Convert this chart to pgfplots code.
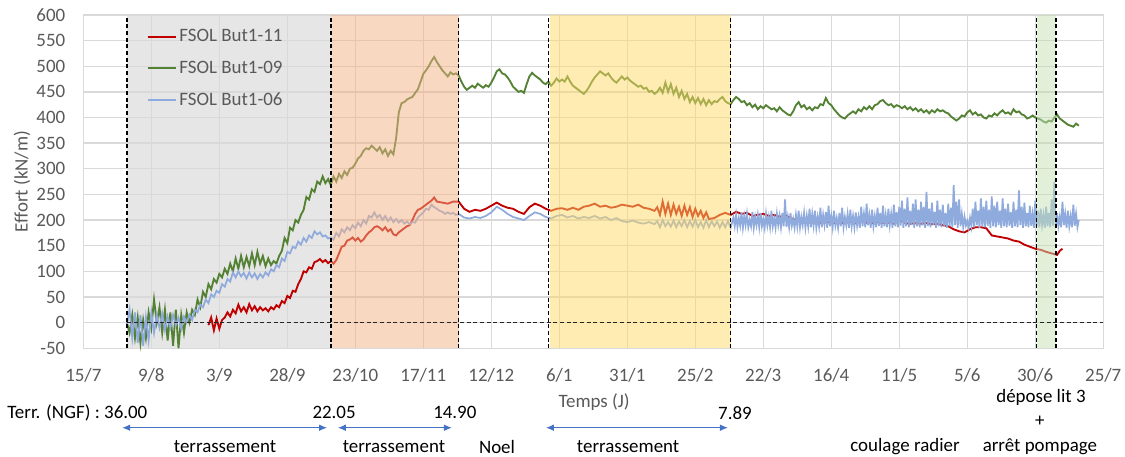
\documentclass[border=0pt]{standalone}
\usepackage{pgfplots}
\pgfplotsset{compat=1.18}
\usepackage{pgfplotstable}
\usepackage{fontspec}
\setmainfont{Carlito}
\usetikzlibrary{arrows.meta}

\definecolor{cRed}{HTML}{C00000}
\definecolor{cGreen}{HTML}{548235}
\definecolor{cBlue}{HTML}{8FAADC}
\definecolor{cGrid}{HTML}{D9D9D9}
\definecolor{cTick}{HTML}{595959}
\definecolor{cGrey}{HTML}{E7E6E6}
\definecolor{cSalmon}{HTML}{F4B183}
\definecolor{cYellow}{HTML}{FFD966}
\definecolor{cLGreen}{HTML}{C5E0B4}
\definecolor{cArrow}{HTML}{4472C4}

\tikzset{
  dashv/.style={black, line width=1.2pt, dash pattern=on 3pt off 2pt},
  darr/.style={cArrow, line width=0.8pt, {Latex[length=6pt,width=5pt]}-{Latex[length=6pt,width=5pt]}},
}

% FSOL But1-11 (day from 15/7, kN/m)
\pgfplotstableread[row sep=\\]{
d v\\
46 -5\\ 47 10\\ 48 -15\\ 49 8\\ 50 -12\\ 51 5\\ 52 10\\ 53 20\\ 54 12\\ 55 25\\
56 18\\ 57 35\\ 58 22\\ 59 30\\ 60 20\\ 61 36\\ 62 24\\ 63 32\\ 64 22\\ 65 30\\
66 24\\ 67 28\\ 68 22\\ 69 30\\ 70 26\\ 71 34\\ 72 30\\ 73 42\\ 74 38\\ 75 52\\
76 48\\ 77 62\\ 78 60\\ 79 75\\ 80 85\\ 81 100\\ 82 98\\ 83 108\\ 84 105\\ 85 118\\
86 120\\ 87 124\\ 88 118\\ 89 122\\ 90 116\\ 91 120\\ 92 115\\ 93 122\\ 94 135\\ 95 148\\
96 150\\ 97 160\\ 98 162\\ 99 166\\ 100 160\\ 101 165\\ 102 158\\ 103 162\\ 104 170\\ 105 176\\
106 180\\ 107 186\\ 108 188\\ 109 185\\ 110 180\\ 111 186\\ 112 178\\ 113 182\\ 114 172\\ 115 170\\
116 176\\ 117 180\\ 118 184\\ 119 188\\ 120 190\\ 121 200\\ 122 212\\ 123 220\\ 124 222\\ 126 230\\
128 238\\ 129 244\\ 130 236\\ 132 234\\ 134 232\\ 136 236\\ 138 236\\ 140 222\\ 142 216\\ 144 220\\
146 218\\ 148 222\\ 150 228\\ 152 234\\ 154 228\\ 156 224\\ 158 222\\ 160 216\\ 162 212\\ 164 225\\
166 232\\ 168 228\\ 170 222\\ 172 218\\ 174 222\\ 176 223\\ 178 220\\ 180 224\\ 182 220\\ 184 226\\
186 228\\ 188 232\\ 190 226\\ 192 228\\ 194 224\\ 196 226\\ 198 230\\ 200 228\\ 202 226\\ 204 230\\
206 224\\ 208 222\\ 210 218\\ 211 225\\ 212 210\\ 213 236\\ 214 212\\ 215 232\\ 216 210\\ 217 230\\
218 212\\ 219 226\\ 220 208\\ 221 228\\ 222 210\\ 223 225\\ 224 206\\ 225 222\\ 226 208\\ 227 218\\
228 204\\ 229 215\\ 230 202\\ 232 204\\ 234 210\\ 236 214\\ 238 210\\ 240 216\\ 242 212\\ 244 214\\
246 208\\ 248 210\\ 250 212\\ 252 208\\ 254 210\\ 256 206\\ 258 210\\ 260 204\\ 262 200\\ 264 198\\
266 196\\ 268 195\\ 270 196\\ 272 194\\ 274 196\\ 276 194\\ 278 195\\ 280 194\\ 282 196\\ 284 194\\
286 200\\ 288 195\\ 290 194\\ 292 196\\ 294 194\\ 296 195\\ 298 193\\ 300 200\\ 302 194\\ 304 193\\
306 194\\ 308 193\\ 310 194\\ 312 192\\ 314 193\\ 316 190\\ 318 188\\ 320 182\\ 322 178\\ 324 176\\
326 182\\ 328 186\\ 330 186\\ 332 184\\ 334 170\\ 336 168\\ 338 166\\ 340 164\\ 342 160\\ 344 158\\
346 152\\ 348 148\\ 350 144\\ 352 142\\ 354 138\\ 356 135\\ 358 132\\ 359 140\\ 360 144\\
}\tRed

% FSOL But1-09
\pgfplotstableread[row sep=\\]{
d v\\
16 0\\ 17 -20\\ 18 15\\ 19 -30\\ 20 10\\ 21 -40\\ 22 5\\ 23 -30\\ 24 20\\ 25 -10\\
26 45\\ 27 0\\ 28 30\\ 29 -20\\ 30 25\\ 31 -35\\ 32 20\\ 33 -45\\ 34 25\\ 35 -50\\
36 15\\ 37 -20\\ 38 20\\ 39 0\\ 40 25\\ 41 15\\ 42 45\\ 43 30\\ 44 60\\ 45 50\\
46 75\\ 47 65\\ 48 85\\ 49 78\\ 50 95\\ 51 88\\ 52 105\\ 53 95\\ 54 115\\ 55 100\\
56 125\\ 57 105\\ 58 130\\ 59 108\\ 60 128\\ 61 110\\ 62 135\\ 63 112\\ 64 138\\ 65 115\\
66 130\\ 67 110\\ 68 125\\ 69 112\\ 70 120\\ 71 115\\ 72 130\\ 73 140\\ 74 165\\ 75 155\\
76 185\\ 77 180\\ 78 200\\ 79 195\\ 80 210\\ 81 220\\ 82 245\\ 83 240\\ 84 260\\ 85 255\\
86 275\\ 87 270\\ 88 285\\ 89 272\\ 90 280\\ 91 268\\ 92 285\\ 93 275\\ 94 290\\ 95 282\\
96 295\\ 97 288\\ 98 300\\ 99 302\\ 100 310\\ 101 320\\ 102 325\\ 103 335\\ 104 340\\ 105 338\\
106 345\\ 107 340\\ 108 335\\ 109 342\\ 110 330\\ 111 338\\ 112 325\\ 113 335\\ 114 328\\ 115 360\\
116 410\\ 117 428\\ 118 430\\ 119 435\\ 120 438\\ 121 440\\ 122 448\\ 123 455\\ 124 470\\ 125 485\\
126 492\\ 127 500\\ 128 510\\ 129 518\\ 130 508\\ 131 500\\ 132 492\\ 133 486\\ 134 480\\ 135 488\\
136 484\\ 137 486\\ 138 482\\ 139 470\\ 140 460\\ 141 454\\ 142 458\\ 143 462\\ 144 458\\ 145 466\\
146 462\\ 147 458\\ 148 463\\ 149 460\\ 150 468\\ 151 478\\ 152 490\\ 153 494\\ 154 486\\ 155 484\\
156 478\\ 157 470\\ 158 460\\ 159 455\\ 160 450\\ 161 452\\ 162 448\\ 163 465\\ 164 480\\ 165 487\\
166 482\\ 167 478\\ 168 474\\ 169 468\\ 170 465\\ 171 470\\ 172 462\\ 173 468\\ 174 476\\ 175 470\\
176 474\\ 177 470\\ 178 480\\ 179 470\\ 180 462\\ 181 458\\ 182 454\\ 183 450\\ 184 446\\ 185 452\\
186 460\\ 187 470\\ 188 478\\ 189 484\\ 190 490\\ 191 486\\ 192 482\\ 193 486\\ 194 478\\ 195 472\\
196 468\\ 197 474\\ 198 480\\ 199 474\\ 200 478\\ 201 472\\ 202 468\\ 203 464\\ 204 460\\ 205 462\\
206 456\\ 207 458\\ 208 450\\ 209 452\\ 210 446\\ 211 450\\ 212 458\\ 213 448\\ 214 468\\ 215 450\\
216 465\\ 217 446\\ 218 458\\ 219 440\\ 220 452\\ 221 436\\ 222 446\\ 223 430\\ 224 440\\ 225 428\\
226 438\\ 227 426\\ 228 436\\ 229 424\\ 230 434\\ 231 426\\ 232 432\\ 233 430\\ 234 436\\ 235 440\\
236 432\\ 237 428\\ 238 426\\ 239 434\\ 240 440\\ 241 436\\ 242 430\\ 243 432\\ 244 424\\ 245 428\\
246 420\\ 247 425\\ 248 416\\ 249 422\\ 250 418\\ 251 424\\ 252 420\\ 253 416\\ 254 418\\ 255 412\\
256 420\\ 257 414\\ 258 410\\ 259 406\\ 260 404\\ 261 412\\ 262 424\\ 263 430\\ 264 420\\ 265 424\\
266 416\\ 267 420\\ 268 414\\ 269 420\\ 270 418\\ 271 426\\ 272 424\\ 273 438\\ 274 428\\ 275 424\\
276 416\\ 277 410\\ 278 404\\ 279 400\\ 280 398\\ 281 404\\ 282 408\\ 283 412\\ 284 408\\ 285 416\\
286 412\\ 287 420\\ 288 416\\ 289 422\\ 290 416\\ 291 424\\ 292 426\\ 293 432\\ 294 434\\ 295 428\\
296 424\\ 297 426\\ 298 420\\ 299 424\\ 300 422\\ 301 418\\ 302 422\\ 303 416\\ 304 420\\ 305 414\\
306 418\\ 307 412\\ 308 416\\ 309 410\\ 310 414\\ 311 408\\ 312 414\\ 313 410\\ 314 416\\ 315 412\\
316 414\\ 317 410\\ 318 408\\ 319 402\\ 320 398\\ 321 394\\ 322 398\\ 323 404\\ 324 402\\ 325 410\\
326 414\\ 327 406\\ 328 410\\ 329 404\\ 330 406\\ 331 400\\ 332 398\\ 333 404\\ 334 402\\ 335 408\\
336 404\\ 337 410\\ 338 414\\ 339 408\\ 340 410\\ 341 406\\ 342 416\\ 343 410\\ 344 412\\ 345 406\\
346 404\\ 347 398\\ 348 400\\ 349 404\\ 350 400\\ 351 398\\ 352 396\\ 353 392\\ 354 390\\ 355 394\\
356 392\\ 357 400\\ 358 406\\ 359 398\\ 360 394\\ 361 390\\ 362 386\\ 363 384\\ 364 382\\ 365 388\\
366 384\\
}\tGreen

% FSOL But1-06
\pgfplotstableread[row sep=\\]{
d v\\
16 -5\\ 17 25\\ 18 -30\\ 19 20\\ 20 -40\\ 21 15\\ 22 -45\\ 23 10\\ 24 -35\\ 25 20\\
26 -20\\ 27 15\\ 28 -10\\ 29 18\\ 30 -15\\ 31 12\\ 32 -10\\ 33 15\\ 34 -5\\ 35 10\\
36 -12\\ 37 12\\ 38 0\\ 39 15\\ 40 5\\ 41 25\\ 42 20\\ 43 35\\ 44 30\\ 45 45\\
46 38\\ 47 55\\ 48 50\\ 49 62\\ 50 58\\ 51 75\\ 52 70\\ 53 85\\ 54 80\\ 55 98\\
56 88\\ 57 100\\ 58 90\\ 59 97\\ 60 86\\ 61 98\\ 62 88\\ 63 96\\ 64 85\\ 65 95\\
66 88\\ 67 98\\ 68 92\\ 69 104\\ 70 100\\ 71 112\\ 72 108\\ 73 125\\ 74 120\\ 75 138\\
76 135\\ 77 148\\ 78 145\\ 79 158\\ 80 152\\ 81 165\\ 82 158\\ 83 170\\ 84 165\\ 85 178\\
86 172\\ 87 176\\ 88 168\\ 89 170\\ 90 164\\ 91 166\\ 92 162\\ 93 175\\ 94 168\\ 95 182\\
96 176\\ 97 186\\ 98 180\\ 99 190\\ 100 184\\ 101 195\\ 102 188\\ 103 200\\ 104 193\\ 105 208\\
106 205\\ 107 215\\ 108 205\\ 109 210\\ 110 200\\ 111 208\\ 112 198\\ 113 205\\ 114 196\\ 115 202\\
116 195\\ 117 200\\ 118 193\\ 119 197\\ 120 192\\ 121 196\\ 122 195\\ 123 205\\ 124 210\\ 125 215\\
126 222\\ 127 220\\ 128 230\\ 129 225\\ 130 222\\ 131 218\\ 132 216\\ 133 212\\ 134 215\\ 135 212\\
136 214\\ 137 210\\ 138 212\\ 140 205\\ 142 203\\ 144 206\\ 146 204\\ 148 208\\ 150 215\\ 152 226\\
154 220\\ 156 212\\ 158 206\\ 160 203\\ 162 200\\ 164 208\\ 166 215\\ 168 212\\ 170 206\\ 172 203\\
174 208\\ 176 210\\ 178 205\\ 180 208\\ 182 203\\ 184 206\\ 186 204\\ 188 208\\ 190 203\\ 192 206\\
194 200\\ 196 204\\ 198 198\\ 200 196\\ 202 199\\ 204 195\\ 206 193\\ 208 196\\ 210 192\\ 211 198\\
212 186\\ 213 200\\ 214 188\\ 215 196\\ 216 187\\ 217 199\\ 218 186\\ 219 197\\ 220 188\\ 221 200\\
222 186\\ 223 198\\ 224 187\\ 225 201\\ 226 186\\ 227 196\\ 228 185\\ 229 200\\ 230 186\\ 231 198\\
232 188\\ 233 197\\ 234 185\\ 235 196\\ 236 186\\ 237 198\\ 238 185\\
239 205\\ 239.5 188\\ 240 210\\ 240.5 186\\ 241 204\\ 241.5 189\\ 242 215\\ 242.5 185\\ 243 208\\ 243.5 190\\
244 212\\ 244.5 186\\ 245 200\\ 245.5 188\\ 246 216\\ 246.5 185\\ 247 206\\ 247.5 190\\ 248 210\\ 248.5 186\\
249 214\\ 249.5 188\\ 250 202\\ 250.5 185\\ 251 212\\ 251.5 189\\ 252 206\\ 252.5 186\\ 253 218\\ 253.5 188\\
254 204\\ 254.5 185\\ 255 212\\ 255.5 190\\ 256 208\\ 256.5 186\\ 257 214\\ 257.5 188\\ 258 240\\ 258.5 187\\
259 206\\ 259.5 186\\ 260 214\\ 260.5 189\\ 261 202\\ 261.5 185\\ 262 210\\ 262.5 188\\ 263 218\\ 263.5 186\\
264 206\\ 264.5 190\\ 265 214\\ 265.5 185\\ 266 208\\ 266.5 188\\ 267 222\\ 267.5 186\\ 268 212\\ 268.5 189\\
269 218\\ 269.5 185\\ 270 206\\ 270.5 188\\ 271 224\\ 271.5 186\\ 272 210\\ 272.5 190\\ 273 216\\ 273.5 185\\
274 228\\ 274.5 188\\ 275 208\\ 275.5 186\\ 276 218\\ 276.5 189\\ 277 204\\ 277.5 185\\ 278 214\\ 278.5 188\\
279 224\\ 279.5 186\\ 280 206\\ 280.5 190\\ 281 212\\ 281.5 185\\ 282 220\\ 282.5 188\\ 283 208\\ 283.5 186\\
284 215\\ 284.5 189\\ 285 206\\ 285.5 185\\ 286 226\\ 286.5 188\\ 287 212\\ 287.5 186\\ 288 232\\ 288.5 190\\
289 210\\ 289.5 185\\ 290 220\\ 290.5 188\\ 291 208\\ 291.5 186\\ 292 224\\ 292.5 189\\ 293 214\\ 293.5 185\\
294 228\\ 294.5 188\\ 295 210\\ 295.5 186\\ 296 222\\ 296.5 190\\ 297 212\\ 297.5 185\\ 298 230\\ 298.5 188\\
299 216\\ 299.5 186\\ 300 226\\ 300.5 189\\ 301 238\\ 301.5 185\\ 302 222\\ 302.5 188\\ 303 244\\ 303.5 186\\
304 218\\ 304.5 190\\ 305 232\\ 305.5 185\\ 306 240\\ 306.5 188\\ 307 220\\ 307.5 186\\ 308 236\\ 308.5 189\\
309 226\\ 309.5 185\\ 310 255\\ 310.5 188\\ 311 222\\ 311.5 186\\ 312 234\\ 312.5 190\\ 313 216\\ 313.5 185\\
314 238\\ 314.5 188\\ 315 220\\ 315.5 186\\ 316 230\\ 316.5 189\\ 317 214\\ 317.5 185\\ 318 232\\ 318.5 188\\
319 224\\ 319.5 186\\ 320 268\\ 320.5 190\\ 321 236\\ 321.5 185\\ 322 240\\ 322.5 188\\ 323 212\\ 323.5 186\\
324 206\\ 324.5 189\\ 325 198\\ 325.5 185\\ 326 204\\ 326.5 188\\ 327 222\\ 327.5 186\\ 328 236\\ 328.5 190\\
329 218\\ 329.5 185\\ 330 242\\ 330.5 188\\ 331 226\\ 331.5 186\\ 332 238\\ 332.5 189\\ 333 220\\ 333.5 185\\
334 246\\ 334.5 188\\ 335 228\\ 335.5 186\\ 336 236\\ 336.5 190\\ 337 218\\ 337.5 185\\ 338 242\\ 338.5 188\\
339 222\\ 339.5 186\\ 340 232\\ 340.5 189\\ 341 216\\ 341.5 185\\ 342 236\\ 342.5 188\\ 343 220\\ 343.5 186\\
344 258\\ 344.5 190\\ 345 226\\ 345.5 185\\ 346 234\\ 346.5 188\\ 347 214\\ 347.5 186\\ 348 228\\ 348.5 189\\
349 212\\ 349.5 185\\ 350 238\\ 350.5 188\\ 351 218\\ 351.5 186\\ 352 222\\ 352.5 190\\ 353 210\\ 353.5 185\\
354 226\\ 354.5 188\\ 355 214\\ 355.5 186\\ 356 240\\ 356.5 189\\ 357 275\\ 357.5 185\\ 358 214\\ 358.5 188\\
359 206\\ 359.5 186\\ 360 236\\ 360.5 190\\ 361 212\\ 361.5 185\\ 362 218\\ 362.5 188\\ 363 208\\ 363.5 186\\
364 230\\ 364.5 189\\ 365 212\\ 365.5 186\\ 366 200\\
}\tBlue

\begin{document}
\begin{tikzpicture}[font=\fontsize{14.2}{17}\selectfont]
\begin{axis}[
  set layers,
  scale only axis,
  width=765pt, height=250pt,
  xmin=0, xmax=375, ymin=-50, ymax=600,
  xtick={0,25,...,375},
  xticklabels={15/7,9/8,3/9,28/9,23/10,17/11,12/12,6/1,31/1,25/2,22/3,16/4,11/5,5/6,30/6,25/7},
  ytick={-50,0,...,600},
  grid=major,
  major grid style={cGrid, line width=1pt},
  axis line style={cGrid, line width=1pt},
  major tick length=0pt,
  tick label style={text=cTick},
  xticklabel style={yshift=-11.5pt},
  yticklabel style={xshift=-10pt},
  /pgf/number format/assume math mode=true,
  ylabel={Effort (kN/m)},
  ylabel style={text=cTick, at={(axis description cs:-0.06,0.5)}, anchor=center},
  clip=false,
  legend cell align=left,
  legend style={draw=none, fill=none, at={(rel axis cs:0.062,0.965)}, anchor=north west,
    text=cTick, row sep=9pt, inner sep=0pt},
  legend image code/.code={\draw[#1, line width=1.5pt] (0pt,0pt) -- (21pt,0pt);},
]
\begin{pgfonlayer}{axis background}
  \fill[cGrey] (axis cs:16,-50) rectangle (axis cs:91,600);
\end{pgfonlayer}

\addplot[cRed, line width=1.4pt] table[x=d, y=v] {\tRed};
\addlegendentry{FSOL But1-11}
\addplot[cGreen, line width=1.4pt] table[x=d, y=v] {\tGreen};
\addlegendentry{FSOL But1-09}
\addplot[cBlue, line width=1.3pt] table[x=d, y=v] {\tBlue};
\addlegendentry{FSOL But1-06}

\fill[cSalmon, fill opacity=0.5] (axis cs:91,-50) rectangle (axis cs:138,600);
\fill[cYellow, fill opacity=0.5] (axis cs:171.5,-50) rectangle (axis cs:238,600);
\fill[cLGreen, fill opacity=0.5] (axis cs:350.5,-50) rectangle (axis cs:357.6,600);

\draw[dashv] (axis cs:16,-50) -- (axis cs:16,600);
\draw[dashv] (axis cs:91,-50) -- (axis cs:91,600);
\draw[dashv] (axis cs:138,-50) -- (axis cs:138,600);
\draw[dashv] (axis cs:171,-50) -- (axis cs:171,600);
\draw[dashv] (axis cs:238,-50) -- (axis cs:238,600);
\draw[dashv] (axis cs:350.5,-50) -- (axis cs:350.5,600);
\draw[dashv] (axis cs:357.6,-50) -- (axis cs:357.6,600);
\draw[black!85, line width=1pt, dash pattern=on 3pt off 2pt] (axis cs:16,0) -- (axis cs:375,0);

% annotations under the axis
\node[anchor=west, inner sep=0pt] at (axis cs:-28,-176) {Terr. (NGF) : 36.00};
\node[inner sep=0pt] at (axis cs:92.2,-176) {22.05};
\node[inner sep=0pt] at (axis cs:136.6,-176) {14.90};
\node[inner sep=0pt] at (axis cs:239.6,-176) {7.89};
\node[inner sep=0pt, text=cTick] at (axis cs:187.8,-154.7) {Temps (J)};
\draw[darr] (axis cs:14.3,-205) -- (axis cs:89.6,-205);
\draw[darr] (axis cs:93.6,-205) -- (axis cs:135.5,-205);
\draw[darr] (axis cs:170.1,-205) -- (axis cs:237,-205);
\node[inner sep=0pt] at (axis cs:52.1,-242.4) {terrassement};
\node[inner sep=0pt] at (axis cs:114.2,-242.4) {terrassement};
\node[inner sep=0pt] at (axis cs:152.1,-242.4) {Noel};
\node[inner sep=0pt] at (axis cs:200.3,-242.4) {terrassement};
\node[inner sep=0pt] at (axis cs:302.1,-242.4) {coulage radier};
\node[inner sep=0pt] at (axis cs:352.1,-146) {dépose lit 3};
\node[inner sep=0pt] at (axis cs:351.7,-193) {+};
\node[inner sep=0pt] at (axis cs:351.7,-242.4) {arrêt pompage};
\end{axis}
\pgfresetboundingbox
\path[use as bounding box] (-62.5pt,-81.5pt) rectangle (781.3pt,261.2pt);
\end{tikzpicture}
\end{document}
